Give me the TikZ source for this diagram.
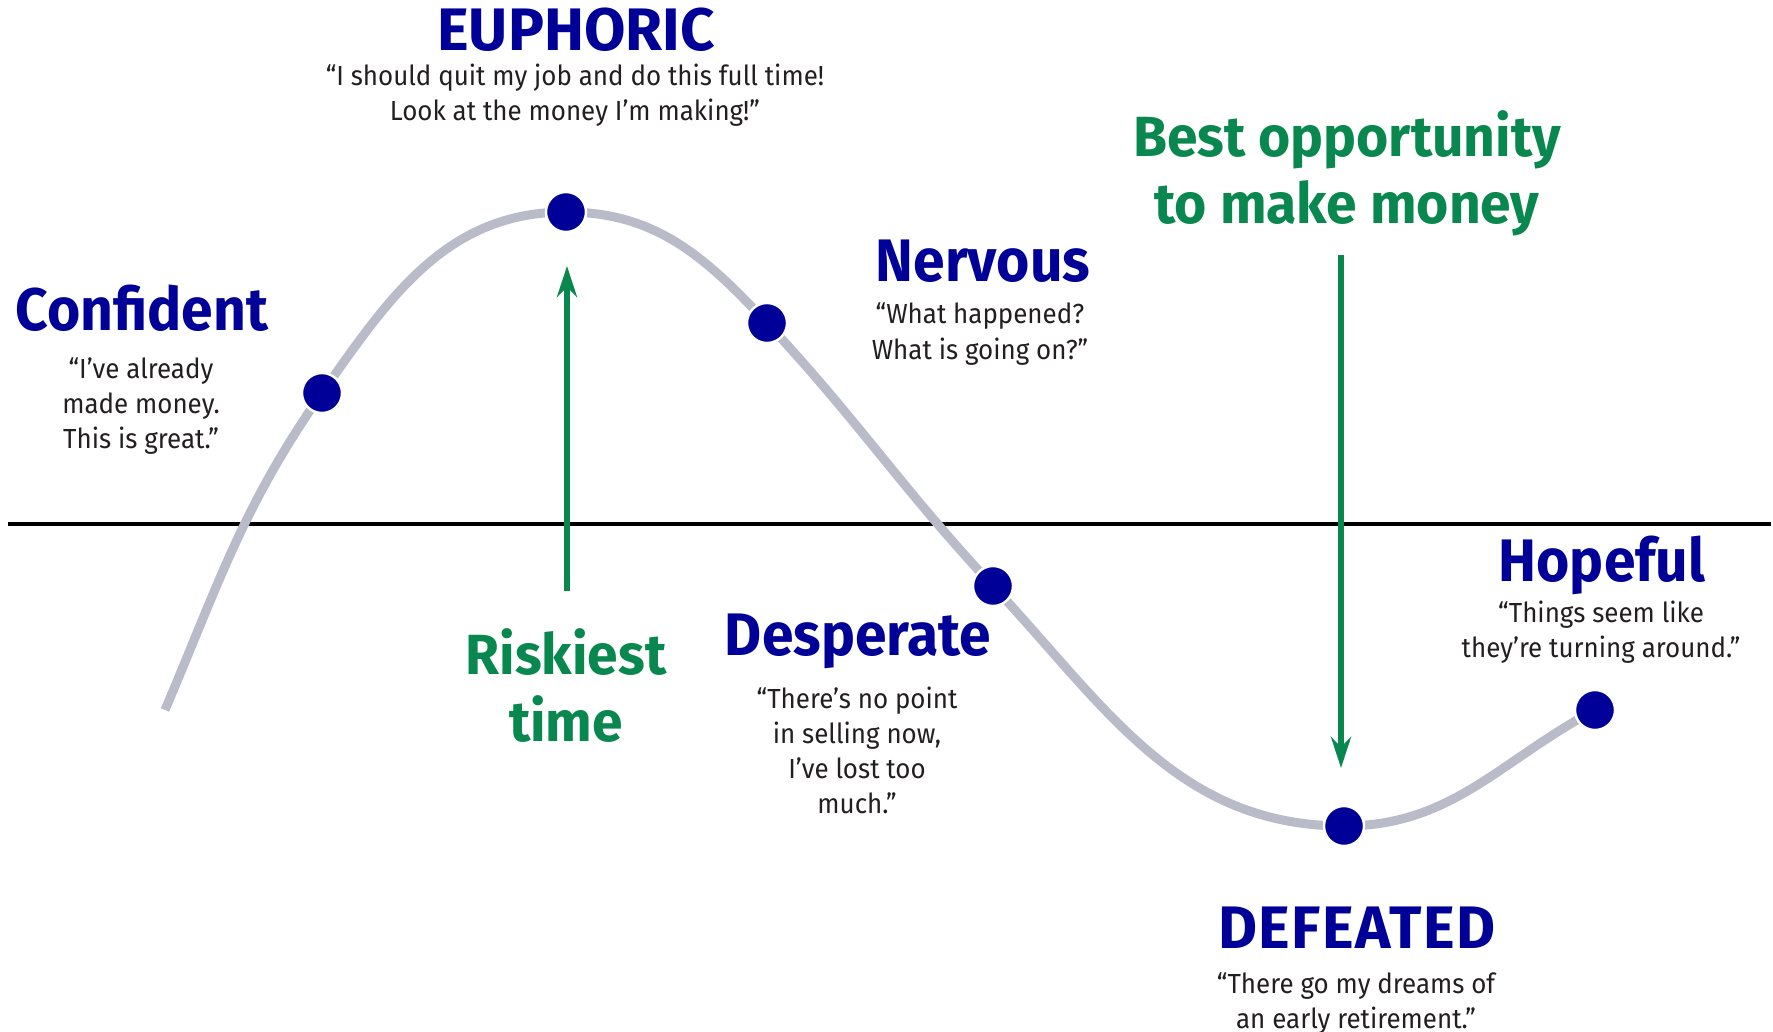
\documentclass[tikz,border=0pt]{standalone}
\usepackage{fontspec}
\setmainfont{Fira Sans}
\newfontfamily\headfont{Fira Sans}[FakeStretch=0.95]
\newfontfamily\capsfont{Fira Sans}[FakeStretch=1.0]
\newfontfamily\capswidefont{Fira Sans}[FakeStretch=1.0,LetterSpace=2.5]
\newfontfamily\greenfont{Fira Sans}[FakeStretch=0.975]
\newfontfamily\quotefont{Fira Sans}[FakeStretch=0.94]
\usetikzlibrary{arrows.meta}
\definecolor{dotblue}{RGB}{0,0,153}
\definecolor{oppgreen}{RGB}{8,135,78}
\definecolor{curvegray}{RGB}{186,187,201}
\definecolor{quotegray}{RGB}{35,31,32}
\newcommand\mylines[1]{\vtop{\halign{\hfil##\hfil\cr#1\crcr}}}
\begin{document}
\begin{tikzpicture}[x=0.5pt,y=0.5pt,
  curve/.style={line width=4.5pt, draw=curvegray},
  dot/.style={circle, fill=dotblue, draw=white, line width=1.2pt, minimum size=20pt, inner sep=0pt},
  head/.style={anchor=base, text=dotblue, inner sep=0pt, font=\headfont\bfseries\fontsize{30}{34}\selectfont},
  capshead/.style={head, font=\capsfont\bfseries\fontsize{30}{34}\selectfont},
  capswide/.style={head, font=\capswidefont\bfseries\fontsize{30}{34}\selectfont},
  qtext/.style={anchor=base, text=quotegray, inner sep=0pt, font=\quotefont\fontsize{13.8}{17.5}\selectfont},
  gtext/.style={anchor=base, text=oppgreen, inner sep=0pt, font=\greenfont\bfseries\fontsize{28.3}{33.5}\selectfont},
  garrow/.style={draw=oppgreen, line width=3pt, -{Stealth[length=15.5pt,width=10pt,inset=5pt]}},
]
\fill[white] (0,0) rectangle (1773,-1032);
\useasboundingbox (0,0) rectangle (1773,-1032);
% axis
\coordinate (axL) at (8,-524);
\coordinate (axR) at (1771,-524);
\draw[line width=2pt] (axL) -- (axR);
% curve points
\coordinate (S) at (165,-710);
\coordinate (C) at (322,-393);
\coordinate (E) at (566,-212);
\coordinate (N) at (767,-323);
\coordinate (D) at (993,-586);
\coordinate (F) at (1344,-826);
\coordinate (H) at (1595,-710);
\draw[curve] (S) to[out=67,in=235] (C) to[out=55,in=180] (E) to[out=0,in=133] (N)
  to[out=-47,in=133] (D) to[out=-47,in=180] (F) to[out=0,in=208] (H);
\node[dot] (dC) at (C) {};
\node[dot] (dE) at (E) {};
\node[dot] (dN) at (N) {};
\node[dot] (dD) at (D) {};
\node[dot] (dF) at (F) {};
\node[dot] (dH) at (H) {};
% green arrows
\coordinate (r0) at (567,-591);
\coordinate (r1) at (567,-266);
\draw[garrow] (r0) -- (r1);
\coordinate (b0) at (1341,-255);
\coordinate (b1) at (1341,-768);
\draw[garrow] (b0) -- (b1);
% texts
\node[capshead] (hE) at (576,-51) {EUPHORIC};
\node[qtext] (qE) at (575,-85.5) {\mylines{“I should quit my job and do this full time!\cr Look at the money I’m making!”}};
\node[head] (hC) at (142,-331) {Confident};
\node[qtext] (qC) at (141,-379) {\mylines{“I’ve already\cr made money.\cr This is great.”}};
\node[head] (hN) at (983,-282) {Nervous};
\node[qtext] (qN) at (980,-324) {\mylines{“What happened?\cr What is going on?”}};
\node[head] (hD) at (858,-655) {Desperate};
\node[qtext] (qD) at (857,-708) {\mylines{“There’s no point\cr in selling now,\cr I’ve lost too\cr much.”}};
\node[capswide] (hF) at (1357,-948) {DEFEATED};
\node[qtext] (qF) at (1356,-993) {\mylines{“There go my dreams of\cr an early retirement.”}};
\node[head] (hH) at (1602,-581) {Hopeful};
\node[qtext] (qH) at (1601,-622) {\mylines{“Things seem like\cr they’re turning around.”}};
\node[gtext] (gB) at (1347,-157) {\mylines{Best opportunity\cr to make money}};
\node[gtext] (gR) at (566,-674) {\mylines{Riskiest\cr time}};
\end{tikzpicture}
\end{document}
